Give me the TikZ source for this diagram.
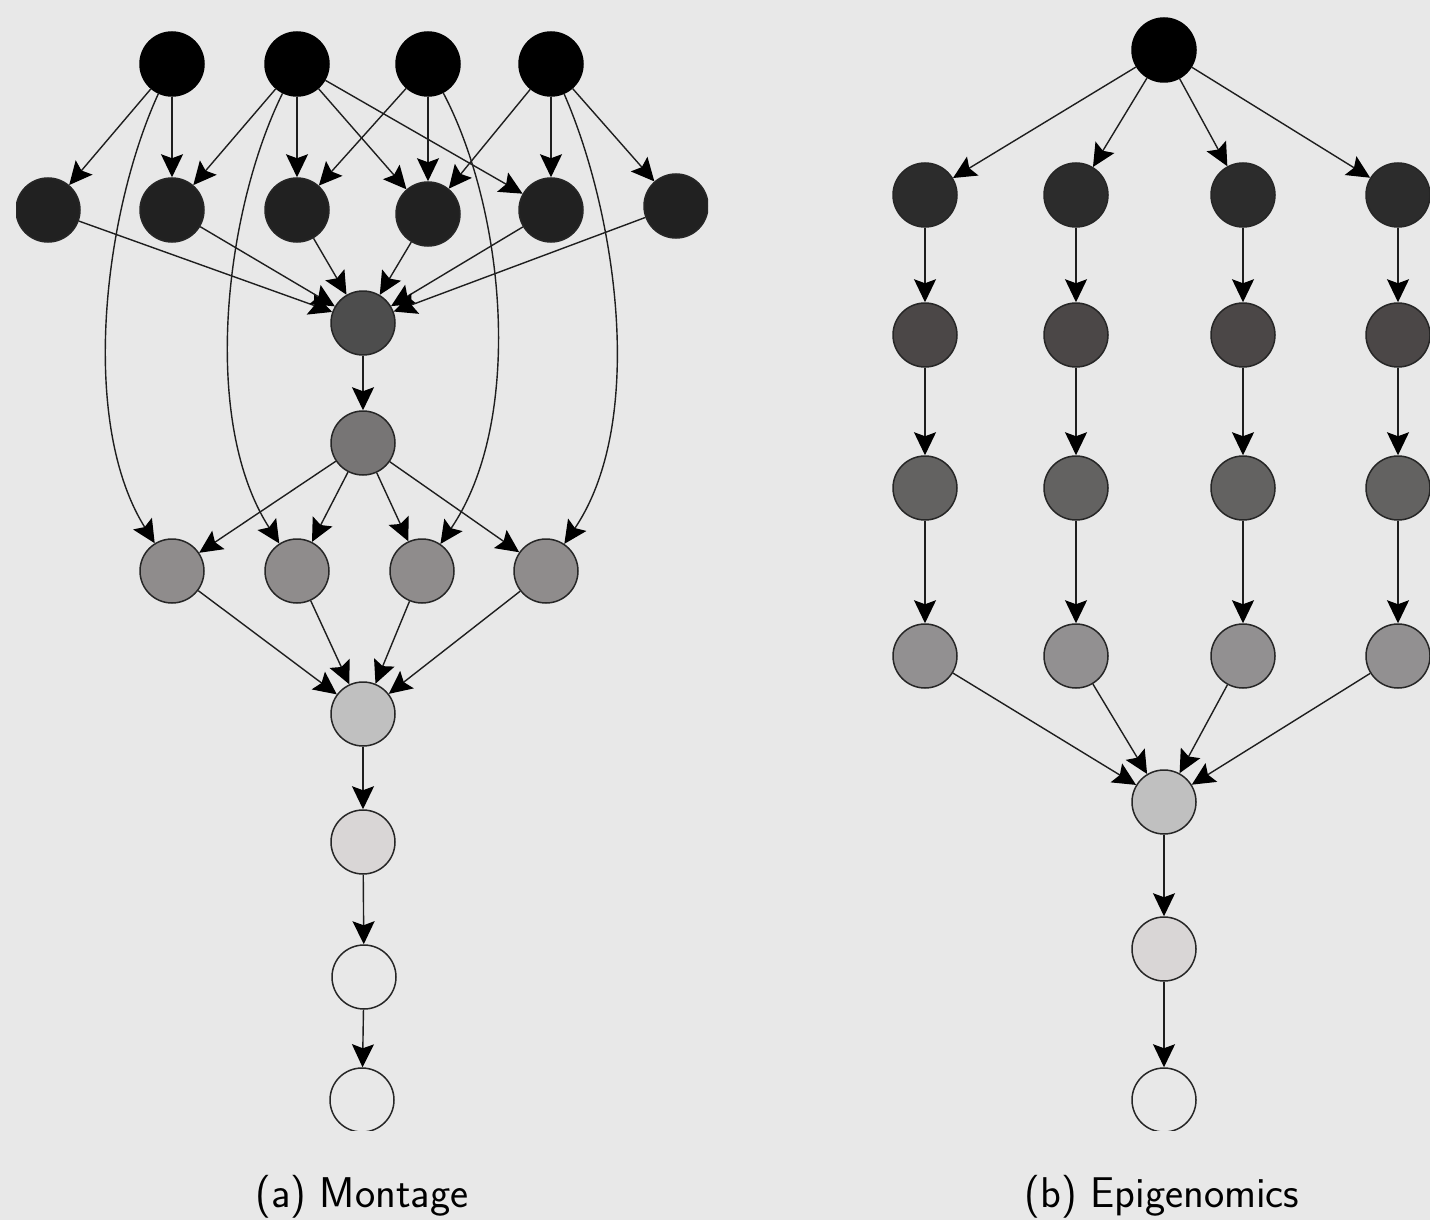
\documentclass[tikz,border=0pt]{standalone}
\usetikzlibrary{arrows.meta}
\definecolor{bgc}{HTML}{E8E8E8}
\definecolor{ndraw}{HTML}{262626}
\definecolor{edgec}{HTML}{1E1E1E}
\definecolor{cA}{HTML}{000000}
\definecolor{cB}{HTML}{212121}
\definecolor{cC}{HTML}{4D4D4D}
\definecolor{cD}{HTML}{777575}
\definecolor{cE}{HTML}{8F8C8C}
\definecolor{cF}{HTML}{C0C0C0}
\definecolor{cG}{HTML}{D9D6D6}
\definecolor{cH}{HTML}{E8E8E8}
\definecolor{eB}{HTML}{2C2C2C}
\definecolor{eC}{HTML}{4B4747}
\definecolor{eD}{HTML}{636261}
\definecolor{eE}{HTML}{929091}
\begin{document}
\begin{tikzpicture}[x=1pt,y=-1pt,
  job/.style={circle, draw=ndraw, line width=1.5pt, minimum size=64pt, inner sep=0pt},
  edge/.style={draw=edgec, line width=1.4pt, -{Stealth[length=23pt,width=22pt,inset=4pt,fill=black,color=black]}},
  caption/.style={font=\sffamily\fontsize{43}{48}\selectfont, anchor=base, inner sep=0pt}
]
\fill[bgc] (0,0) rectangle (1430,1220);

% ---------------- Montage ----------------
\begin{scope}
\clip (16,32) rectangle (708,1130);
\node[job, fill=cA, draw=cA] (A1) at (172,64) {};
\node[job, fill=cA, draw=cA] (A2) at (297,64) {};
\node[job, fill=cA, draw=cA] (A3) at (428,64) {};
\node[job, fill=cA, draw=cA] (A4) at (551,64) {};
\node[job, fill=cB] (B1) at (48,210) {};
\node[job, fill=cB] (B2) at (172,210) {};
\node[job, fill=cB] (B3) at (297,210) {};
\node[job, fill=cB] (B4) at (428,214) {};
\node[job, fill=cB] (B5) at (551,210) {};
\node[job, fill=cB] (B6) at (676,206) {};
\node[job, fill=cC] (C) at (363,323) {};
\node[job, fill=cD] (D) at (363,443) {};
\node[job, fill=cE] (E1) at (172,571) {};
\node[job, fill=cE] (E2) at (297,571) {};
\node[job, fill=cE] (E3) at (422,571) {};
\node[job, fill=cE] (E4) at (546,571) {};
\node[job, fill=cF] (F) at (363,714) {};
\node[job, fill=cG] (G) at (363,842) {};
\node[job, fill=cH] (H) at (364,977) {};
\node[job, fill=cH] (I) at (362,1100) {};

\draw[edge] (A1) -- (B1);
\draw[edge] (A1) -- (B2);
\draw[edge] (A2) -- (B2);
\draw[edge] (A2) -- (B3);
\draw[edge] (A2) -- (B4);
\draw[edge] (A2) -- (B5);
\draw[edge] (A3) -- (B3);
\draw[edge] (A3) -- (B4);
\draw[edge] (A4) -- (B4);
\draw[edge] (A4) -- (B5);
\draw[edge] (A4) -- (B6);
\draw[edge] (A1) .. controls (105,210) and (78,420) .. (E1);
\draw[edge] (A2) .. controls (225,210) and (200,420) .. (E2);
\draw[edge] (A3) .. controls (505,210) and (525,420) .. (E3);
\draw[edge] (A4) .. controls (615,210) and (648,420) .. (E4);
\foreach \b in {B1,B2,B3,B4,B5,B6} \draw[edge] (\b) -- (C);
\draw[edge] (C) -- (D);
\foreach \e in {E1,E2,E3,E4} \draw[edge] (D) -- (\e);
\foreach \e in {E1,E2,E3,E4} \draw[edge] (\e) -- (F);
\draw[edge] (F) -- (G);
\draw[edge] (G) -- (H);
\draw[edge] (H) -- (I);
\end{scope}

% ---------------- Epigenomics ----------------
\begin{scope}
\clip (892,18) rectangle (1430,1130);
\node[job, fill=cA, draw=cA] (T) at (1164,50) {};
\foreach \i/\x in {1/925,2/1076,3/1243,4/1398} {
  \node[job, fill=eB] (P\i) at (\x,195) {};
  \node[job, fill=eC] (Q\i) at (\x,335) {};
  \node[job, fill=eD] (R\i) at (\x,488) {};
  \node[job, fill=eE] (S\i) at (\x,656) {};
}
\node[job, fill=cF] (M) at (1164,802) {};
\node[job, fill=cG] (N) at (1164,949) {};
\node[job, fill=cH] (O) at (1164,1100) {};
\foreach \i in {1,2,3,4} {
  \draw[edge] (T) -- (P\i);
  \draw[edge] (P\i) -- (Q\i);
  \draw[edge] (Q\i) -- (R\i);
  \draw[edge] (R\i) -- (S\i);
  \draw[edge] (S\i) -- (M);
}
\draw[edge] (M) -- (N);
\draw[edge] (N) -- (O);
\end{scope}

\node[caption] (capa) at (362,1207) {(a) Montage};
\node[caption] (capb) at (1162,1207) {(b) Epigenomics};
\end{tikzpicture}
\end{document}
